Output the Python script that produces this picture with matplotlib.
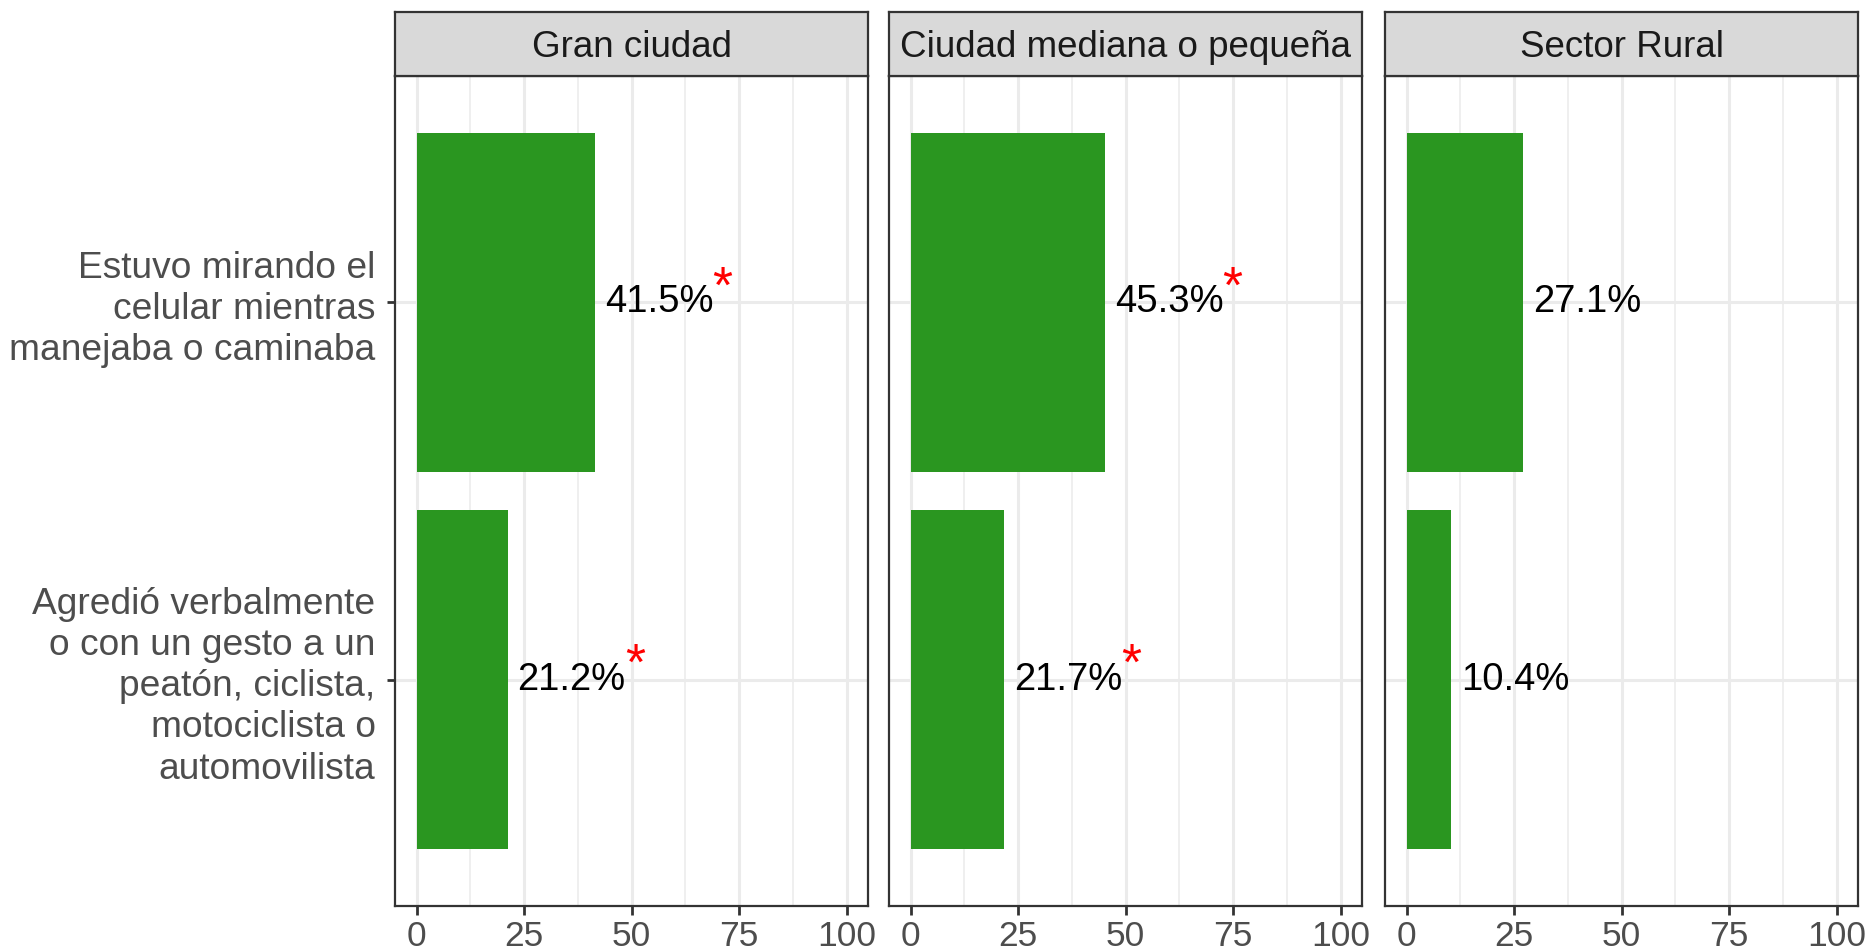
import matplotlib.pyplot as plt
from matplotlib.ticker import MultipleLocator

plt.rcParams["font.family"] = ["Liberation Sans", "DejaVu Sans"]

panels = ["Gran ciudad", "Ciudad mediana o pequeña", "Sector Rural"]
categories = [
    "Estuvo mirando el\ncelular mientras\nmanejaba o caminaba",
    "Agredió verbalmente\no con un gesto a un\npeatón, ciclista,\nmotociclista o\nautomovilista",
]
values_gran = [41.5, 21.2]
values_mediana = [45.3, 21.7]
values_rural = [27.1, 10.4]
signif_gran = [True, True]
signif_mediana = [True, True]
signif_rural = [False, False]

panel_values = [values_gran, values_mediana, values_rural]
panel_signif = [signif_gran, signif_mediana, signif_rural]

W, H = 1867, 950
fig = plt.figure(figsize=(W / 100, H / 100), dpi=100)

green = "#2A9620"
dark = "#333333"
grid = "#EBEBEB"
lefts = [395, 889, 1385]
pw = 473
top_px, bottom_px = 76, 906
strip_top = 12

ypos = [2, 1]
for i, (name, vals, sig) in enumerate(zip(panels, panel_values, panel_signif)):
    ax = fig.add_axes([lefts[i] / W, (H - bottom_px) / H, pw / W, (bottom_px - top_px) / H])
    ax.barh(ypos, vals, height=0.9, color=green, zorder=2)
    for y, v, s in zip(ypos, vals, sig):
        ax.text(v + 2.3, y, f"{v:.1f}%", ha="left", va="center", fontsize=27.5, color="black", zorder=3)
        if s:
            # significance marker, offset to the upper right of the label
            ax.text(v + 29.6, y + 0.035, "*", ha="center", va="center", fontsize=37, color="red", zorder=3)
    ax.set_xlim(-5, 105)
    ax.set_ylim(0.4, 2.6)
    ax.xaxis.set_major_locator(MultipleLocator(25))
    ax.xaxis.set_minor_locator(MultipleLocator(12.5))
    ax.set_yticks(ypos)
    ax.grid(which="major", color=grid, linewidth=2.2, zorder=0)
    ax.grid(which="minor", axis="x", color=grid, linewidth=1.1, zorder=0)
    ax.set_axisbelow(True)
    for sp in ax.spines.values():
        sp.set_color(dark)
        sp.set_linewidth(1.6)
    ax.tick_params(which="major", length=6.5, width=2, color=dark, labelsize=25.5, labelcolor="#4D4D4D", pad=3.5)
    ax.tick_params(which="minor", length=0)
    if i == 0:
        ax.set_yticklabels(categories, linespacing=1.23)
        ax.tick_params(axis="y", length=6, width=2, labelsize=26.7, pad=8)
    else:
        ax.set_yticklabels([])
        ax.tick_params(axis="y", length=0)

    sax = fig.add_axes([lefts[i] / W, (H - top_px) / H, pw / W, (top_px - strip_top) / H])
    sax.set_facecolor("#D9D9D9")
    sax.set_xticks([])
    sax.set_yticks([])
    for sp in sax.spines.values():
        sp.set_color(dark)
        sp.set_linewidth(1.6)
    sax.text(0.5, 0.45, name, ha="center", va="center", fontsize=26.5, color="#1A1A1A", transform=sax.transAxes)

fig.savefig("out.png", dpi=100)
